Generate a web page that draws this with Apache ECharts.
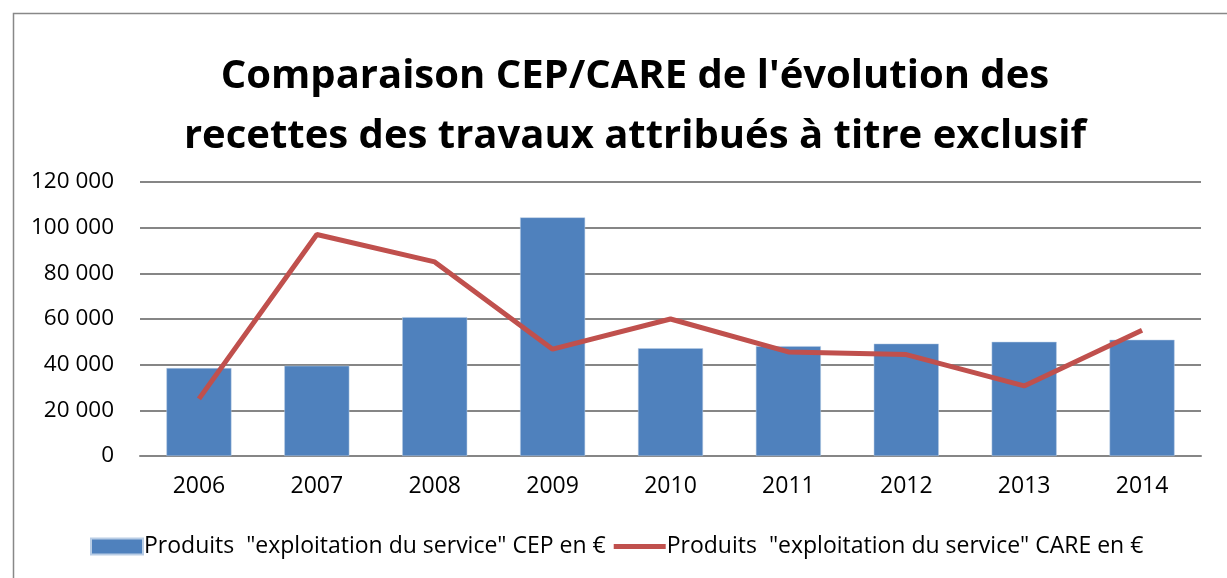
<!DOCTYPE html>
<html>
<head>
<meta charset="utf-8">
<script src="https://cdn.jsdelivr.net/npm/echarts@6/dist/echarts.min.js"></script>
<style>
html,body{margin:0;padding:0;background:#fff;}
#c{width:1227px;height:578px;}
</style>
</head>
<body>
<div id="c"></div>
<script>
const categories = ['2006','2007','2008','2009','2010','2011','2012','2013','2014'];
const cepValues = [38500, 39500, 60800, 104500, 47200, 48100, 49200, 50000, 50900];
const careValues = [25000, 97000, 85000, 46800, 60000, 45600, 44400, 30700, 55100];
const titleLines = ["Comparaison CEP/CARE de l'évolution des", "recettes des travaux attribués à titre exclusif"];
const seriesNames = ['Produits  "exploitation du service" CEP en €', 'Produits  "exploitation du service" CARE en €'];

const FONT = '"Open Sans", Lato, sans-serif';
const chart = echarts.init(document.getElementById('c'), null, {renderer: 'canvas'});
chart.setOption({
  backgroundColor: '#fff',
  animation: false,
  graphic: [{
    type: 'rect', left: 11, top: 11, shape: {x: 0, y: 0, width: 1240, height: 600},
    style: {fill: 'none', stroke: '#888', lineWidth: 1.5}, silent: true
  }],
  title: {
    text: titleLines.join('\n'),
    left: 630, textAlign: 'center', top: 42,
    textStyle: {fontFamily: FONT, fontWeight: 'bold', fontSize: 40, lineHeight: 60, color: '#000'}
  },
  legend: {
    bottom: 15, left: 85,
    itemWidth: 52, itemHeight: 16, itemGap: 8,
    textStyle: {fontFamily: FONT, fontSize: 23, color: '#000', padding: [0, 0, 0, -4]},
    data: [
      {name: seriesNames[0], icon: 'rect'},
      {name: seriesNames[1], icon: 'path://M0,0 L52,0 L52,5 L0,5 Z', itemStyle: {color: '#C0504D'}}
    ]
  },
  grid: {left: 140, right: 26, top: 182, bottom: 122, containLabel: false},
  xAxis: {
    type: 'category', data: categories,
    axisLine: {lineStyle: {color: '#868686', width: 2}},
    axisTick: {show: false},
    axisLabel: {fontFamily: FONT, fontSize: 23, color: '#000', margin: 19}
  },
  yAxis: {
    type: 'value', min: 0, max: 120000, interval: 20000,
    axisLine: {show: false}, axisTick: {show: false},
    splitLine: {lineStyle: {color: '#868686', width: 2}},
    axisLabel: {
      fontFamily: FONT, fontSize: 22.5, color: '#000', margin: 26,
      formatter: v => v === 0 ? '0' : String(v).replace(/\B(?=(\d{3})+(?!\d))/g, ' ')
    }
  },
  series: [
    {
      name: seriesNames[0], type: 'bar', data: cepValues, barWidth: 65,
      itemStyle: {color: '#4F81BD', borderColor: '#B9CDE5', borderWidth: 0.5}
    },
    {
      name: seriesNames[1], type: 'line', data: careValues,
      symbol: 'none', lineStyle: {color: '#C0504D', width: 5}, itemStyle: {color: '#C0504D'}
    }
  ]
});
</script>
</body>
</html>
